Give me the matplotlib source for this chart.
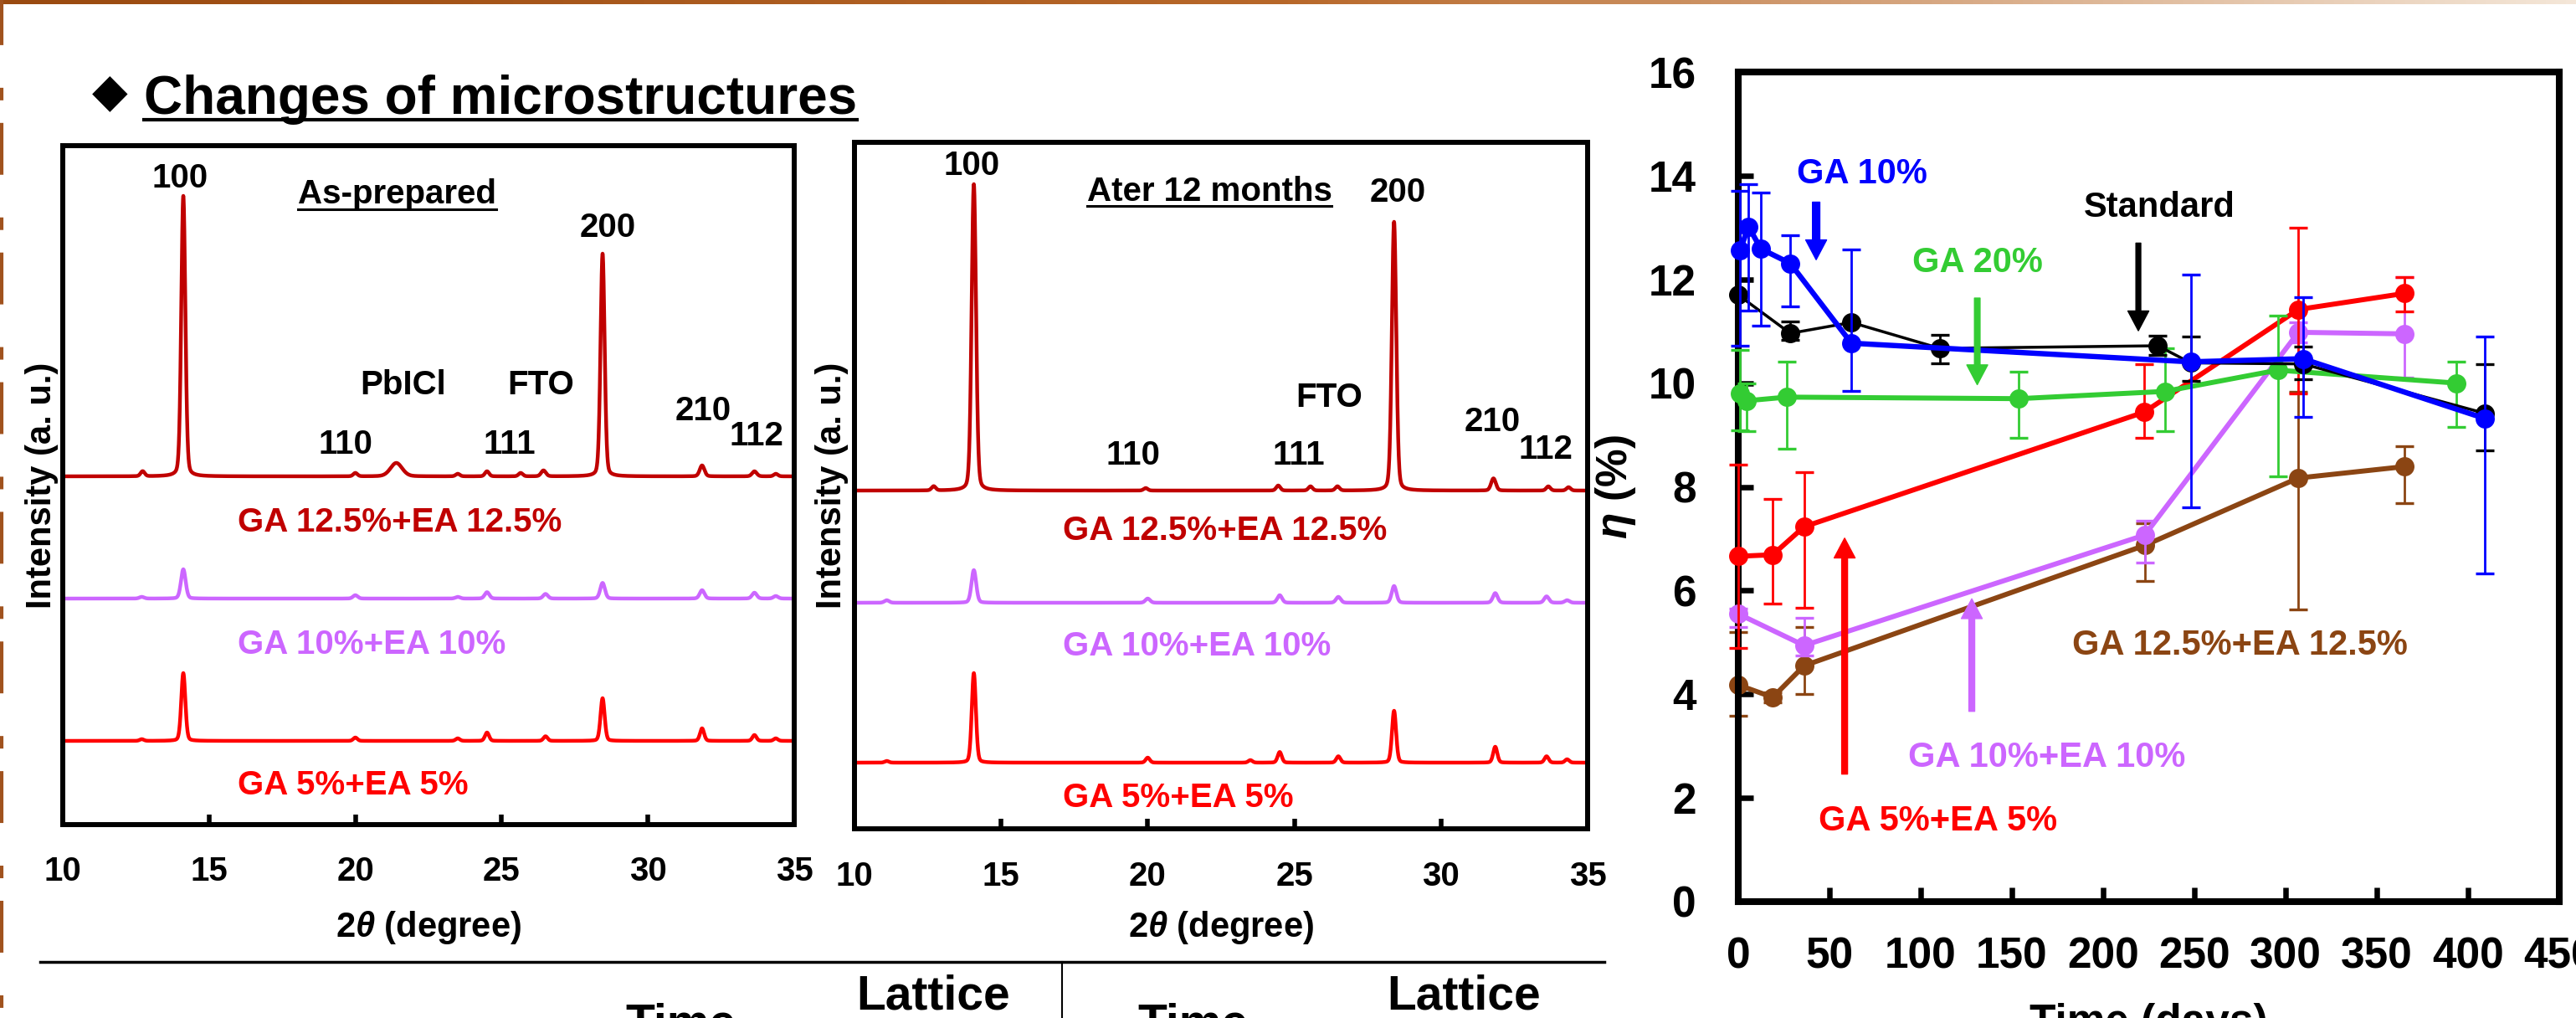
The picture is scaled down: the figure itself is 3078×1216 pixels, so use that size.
import numpy as np
import matplotlib.pyplot as plt
from matplotlib.lines import Line2D
from matplotlib.colors import LinearSegmentedColormap

W, H = 3078, 1216

plt.rcParams['font.family'] = ['Liberation Sans', 'DejaVu Sans']
plt.rcParams['font.weight'] = 'bold'
plt.rcParams['mathtext.fontset'] = 'custom'
plt.rcParams['mathtext.rm'] = 'Liberation Sans:bold'
plt.rcParams['mathtext.it'] = 'Liberation Sans:italic:bold'
plt.rcParams['mathtext.bf'] = 'Liberation Sans:bold'
plt.rcParams['lines.scale_dashes'] = False

# ---- XRD peaks: position (deg), height (a.u.), width (deg)
two_theta = np.linspace(10, 35, 5001)

prep_125_pos = [12.73, 14.12, 20.0, 21.4, 23.5, 24.5, 25.65, 26.43, 28.45, 31.85, 33.64, 34.37]
prep_125_h = [6, 335, 4, 16, 3, 6, 4, 7, 266, 13, 6, 3]
prep_125_w = [0.07, 0.07, 0.07, 0.2, 0.07, 0.07, 0.07, 0.08, 0.07, 0.08, 0.08, 0.07]

prep_10_pos = [12.7, 14.12, 20.0, 23.5, 24.5, 26.5, 28.45, 31.85, 33.64, 34.37]
prep_10_h = [2, 35, 4, 2, 7.6, 5.5, 18.7, 10, 7, 3]
prep_10_w = [0.08] * 10

prep_5_pos = [12.7, 14.12, 20.0, 23.5, 24.5, 26.5, 28.45, 31.85, 33.64, 34.37]
prep_5_h = [2, 81, 4, 3, 10, 5.5, 51, 15, 7, 3]
prep_5_w = [0.07] * 10

aged_125_pos = [12.7, 14.07, 19.93, 24.45, 25.55, 26.47, 28.4, 31.79, 33.66, 34.35]
aged_125_h = [5, 366, 3, 6, 5, 5, 321, 14.5, 5, 4]
aged_125_w = [0.07, 0.075, 0.07, 0.07, 0.07, 0.07, 0.075, 0.08, 0.07, 0.07]

aged_10_pos = [11.1, 14.07, 20.0, 24.5, 26.5, 28.4, 31.85, 33.6, 34.3]
aged_10_h = [3, 39, 5, 9, 7, 20, 11.5, 7.6, 3]
aged_10_w = [0.08] * 9

aged_5_pos = [11.1, 14.07, 20.0, 23.5, 24.5, 26.5, 28.4, 31.85, 33.6, 34.3]
aged_5_h = [2, 107, 6, 3, 12.7, 7.6, 62, 19, 7.6, 4]
aged_5_w = [0.07] * 10

prep_offsets = [416, 270, 100]
aged_offsets = [404, 270, 79]

# ---- efficiency vs time
std_days = [0, 28.5, 62, 110.5, 230, 248, 309.5, 409]
std_eff = [11.70, 10.96, 11.17, 10.67, 10.72, 10.39, 10.37, 9.42]
std_lo = [0.0, 0.12, 0.0, 0.29, 0.17, 0.34, 0.30, 0.72]
std_hi = [0.0, 0.23, 0.0, 0.26, 0.20, 0.51, 0.33, 0.94]

ga10_days = [1, 5.6, 12.4, 28.5, 62, 248, 309.5, 409]
ga10_eff = [12.56, 13.02, 12.59, 12.31, 10.77, 10.41, 10.47, 9.32]
ga10_lo = [1.84, 1.62, 1.49, 0.83, 0.92, 2.81, 1.12, 2.99]
ga10_hi = [1.15, 0.82, 1.09, 0.54, 1.80, 1.69, 1.18, 1.58]

ga20_days = [0.9, 4.6, 26.6, 153.7, 233.8, 295.7, 393.7]
ga20_eff = [9.80, 9.66, 9.73, 9.70, 9.84, 10.25, 10.00]
ga20_lo = [0.71, 0.59, 1.00, 0.76, 0.77, 2.05, 0.84]
ga20_hi = [0.84, 0.34, 0.69, 0.52, 0.83, 1.05, 0.42]

ga5ea5_days = [0, 18.9, 36.1, 222.5, 307, 365.2]
ga5ea5_eff = [6.66, 6.69, 7.23, 9.44, 11.42, 11.73]
ga5ea5_lo = [1.76, 0.95, 1.56, 0.49, 1.62, 0.35]
ga5ea5_hi = [1.76, 1.08, 1.05, 0.92, 1.57, 0.31]

ga10ea10_days = [0, 36.1, 222.8, 307, 365.2]
ga10ea10_eff = [5.55, 4.94, 7.07, 10.98, 10.95]
ga10ea10_lo = [0.25, 0.20, 0.53, 0.20, 0.85]
ga10ea10_hi = [0.10, 0.53, 0.28, 0.20, 1.10]

ga125_days = [0, 18.9, 36.1, 222.8, 307, 365.2]
ga125_eff = [4.18, 3.94, 4.55, 6.87, 8.17, 8.39]
ga125_lo = [0.59, 0.10, 0.55, 0.68, 2.53, 0.71]
ga125_hi = [1.02, 0.10, 0.75, 0.43, 1.67, 0.40]

DARKRED = '#C00000'
VIOLET = '#CC66FF'
RED = '#FF0000'
GREEN = '#33CC33'
BROWN = '#8B4513'
BLUE = '#0000FF'


def xrd_curve(pos, height, width):
    y = np.zeros_like(two_theta)
    for p, h, w in zip(pos, height, width):
        g = np.exp(-0.5 * ((two_theta - p) / w) ** 2)
        lor = 1.0 / (1.0 + ((two_theta - p) / (1.18 * w)) ** 2)
        y += h * (0.8 * g + 0.2 * lor)
    return y


def fx(px):
    return px / W


def fy(py):
    return 1 - py / H


fig = plt.figure(figsize=(W / 100, H / 100), dpi=100)


def underline(txt, y_px, lw):
    r = fig.canvas.get_renderer()
    bb = txt.get_window_extent(renderer=r)
    fig.add_artist(Line2D([bb.x0 / W, bb.x1 / W], [fy(y_px), fy(y_px)],
                          transform=fig.transFigure, color='black', lw=lw))


# ---- decorative border
top = fig.add_axes([0, 1 - 5 / H, 1, 5 / H])
border_cmap = LinearSegmentedColormap.from_list('border', ['#9A4A10', '#B8682A', '#F4E6D8'])
top.imshow(np.linspace(0, 1, 256)[None, :], aspect='auto', cmap=border_cmap)
top.axis('off')
fig.add_artist(Line2D([fx(2), fx(2)], [1, 0], transform=fig.transFigure, color='#A0521E',
                      lw=3, linestyle=(5.8, (44.6, 36.7, 10.8, 19.4))))

# ---- title
fig.text(fx(131), fy(112), '\u25c6', fontsize=40, family='DejaVu Sans',
         ha='center', va='center')
title = fig.text(fx(172), fy(136), 'Changes of microstructures', fontsize=46,
                 fontweight='bold', ha='left', va='baseline')
underline(title, 143, 3)

# ---- XRD panels
panels = [
    dict(rect=[fx(75), fy(985), 874 / W, 811 / H], top=985, left=75, scale=34.96, ymax=811,
         curves=[(prep_125_pos, prep_125_h, prep_125_w), (prep_10_pos, prep_10_h, prep_10_w),
                 (prep_5_pos, prep_5_h, prep_5_w)],
         offsets=prep_offsets, ylab_x=70,
         heading='As-prepared', heading_pos=(475, 243), heading_ul=250,
         peaks=[('100', 215, 224), ('200', 726, 283), ('PbICl', 482, 471), ('FTO', 646, 471),
                ('110', 413, 542), ('111', 609, 542), ('210', 840, 502), ('112', 904, 532)],
         names_x=284, names_y=[635, 781, 949]),
    dict(rect=[fx(1021), fy(990), 876 / W, 820 / H], top=990, left=1021, scale=35.04, ymax=820,
         curves=[(aged_125_pos, aged_125_h, aged_125_w), (aged_10_pos, aged_10_h, aged_10_w),
                 (aged_5_pos, aged_5_h, aged_5_w)],
         offsets=aged_offsets, ylab_x=1014,
         heading='Ater 12 months', heading_pos=(1445, 240), heading_ul=246,
         peaks=[('100', 1161, 209), ('200', 1670, 241), ('FTO', 1588, 486),
                ('110', 1354, 555), ('111', 1552, 555), ('210', 1783, 515), ('112', 1847, 548)],
         names_x=1270, names_y=[645, 783, 964]),
]
names = ['GA 12.5%+EA 12.5%', 'GA 10%+EA 10%', 'GA 5%+EA 5%']
xrd_colors = [DARKRED, VIOLET, RED]

for p in panels:
    ax = fig.add_axes(p['rect'])
    for (pos, h, w), off, c in zip(p['curves'], p['offsets'], xrd_colors):
        ax.plot(two_theta, xrd_curve(pos, h, w) + off, color=c, lw=3.2)
    ax.set_xlim(10, 35)
    ax.set_ylim(0, p['ymax'])
    ax.set_yticks([])
    ax.set_xticks([10, 15, 20, 25, 30, 35])
    ax.tick_params(axis='x', direction='in', length=9, width=4, pad=27, labelsize=29)
    for s in ax.spines.values():
        s.set_linewidth(4.3)
    ax.set_xlabel('2$\\theta$ (degree)', fontsize=30, fontweight='bold')
    ax.xaxis.set_label_coords(0.5, (p['top'] - 1086) / p['ymax'])
    ax.set_ylabel('Intensity (a. u.)', fontsize=30, fontweight='bold')
    ax.yaxis.set_label_coords((p['ylab_x'] - p['left']) / (p['rect'][2] * W), 0.5)

    def dx(px, p=p):
        return 10 + (px - p['left']) / p['scale']

    def dy(py, p=p):
        return p['top'] - py

    for lab, px, py in p['peaks']:
        ax.text(dx(px), dy(py), lab, fontsize=29, ha='center', va='baseline')
    hx, hy = p['heading_pos']
    head = ax.text(dx(hx), dy(hy), p['heading'], fontsize=29, ha='center', va='baseline')
    underline(head, p['heading_ul'], 2.2)
    for name, c, py in zip(names, xrd_colors, p['names_y']):
        ax.text(dx(p['names_x']), dy(py), name, fontsize=29, color=c, ha='left', va='baseline')

# ---- efficiency plot
ax3 = fig.add_axes([fx(2077), fy(1077), 981 / W, 991 / H])
series = [
    (ga125_days, ga125_eff, ga125_lo, ga125_hi, BROWN, 4.3, 2),
    (ga10ea10_days, ga10ea10_eff, ga10ea10_lo, ga10ea10_hi, VIOLET, 4.3, 3),
    (ga5ea5_days, ga5ea5_eff, ga5ea5_lo, ga5ea5_hi, RED, 4.3, 4),
    (ga20_days, ga20_eff, ga20_lo, ga20_hi, GREEN, 4.3, 5),
    (std_days, std_eff, std_lo, std_hi, 'black', 2.5, 6),
    (ga10_days, ga10_eff, ga10_lo, ga10_hi, BLUE, 4.6, 7),
]
for d, e, lo, hi, c, lw, z in series:
    ax3.errorbar(d, e, yerr=[lo, hi], fmt='o-', color=c, ecolor=c, lw=lw, ms=15.5,
                 elinewidth=2, capsize=8, capthick=2.4, zorder=z, clip_on=False)

ax3.set_xlim(0, 450)
ax3.set_ylim(0, 16)
ax3.set_xticks(np.arange(0, 451, 50))
ax3.set_yticks(np.arange(0, 17, 2))
ax3.tick_params(axis='x', direction='in', length=12, width=4.7, pad=30, labelsize=37)
ax3.tick_params(axis='y', direction='in', length=13, width=4.7, pad=36, labelsize=37)
for s in ax3.spines.values():
    s.set_linewidth(5.8)
ax3.set_xlabel('Time (days)', fontsize=37, fontweight='bold')
ax3.xaxis.set_label_coords(0.5, (1077 - 1198) / 991)
ax3.set_ylabel('$\\eta$ (%)', fontsize=37, fontweight='bold')
ax3.yaxis.set_label_coords((1957 - 2077) / 981, 0.5)

notes = [
    ('GA 10%', BLUE, 67.9, 13.86, 42.7, 13.49, 12.38, 6.3),
    ('GA 20%', GREEN, 131, 12.14, 131, 11.64, 9.97, 4.8),
    ('Standard', 'black', 230.7, 13.2, 219.3, 12.70, 11.01, 4.2),
    ('GA 5%+EA 5%', RED, 109.6, 1.37, 58.3, 2.46, 7.01, 5.0),
    ('GA 10%+EA 10%', VIOLET, 169.3, 2.60, 128, 3.67, 5.84, 5.0),
]
for lab, c, tx, ty, ax_x, tail, tip, wd in notes:
    ax3.text(tx, ty, lab, color=c, fontsize=30, ha='center', va='baseline', zorder=9)
    ax3.annotate('', xy=(ax_x, tip), xytext=(ax_x, tail),
                 arrowprops=dict(color=c, width=wd, headwidth=18, headlength=17, shrink=0),
                 zorder=9)
ax3.text(275, 4.76, 'GA 12.5%+EA 12.5%', color=BROWN, fontsize=30, ha='center',
         va='baseline', zorder=9)

# ---- table header below the XRD panels
fig.add_artist(Line2D([fx(48), fx(1917)], [fy(1149), fy(1149)], transform=fig.transFigure,
                      color='black', lw=2.5))
fig.add_artist(Line2D([fx(1269), fx(1269)], [fy(1149), 0], transform=fig.transFigure,
                      color='black', lw=1.5))
for lab, px, py in [('Lattice', 1115, 1205), ('Lattice', 1749, 1205),
                    ('Time', 813, 1240), ('Time', 1425, 1240)]:
    fig.text(fx(px), fy(py), lab, fontsize=41, fontweight='bold', ha='center', va='baseline')

fig.savefig('out.png', dpi=100)
